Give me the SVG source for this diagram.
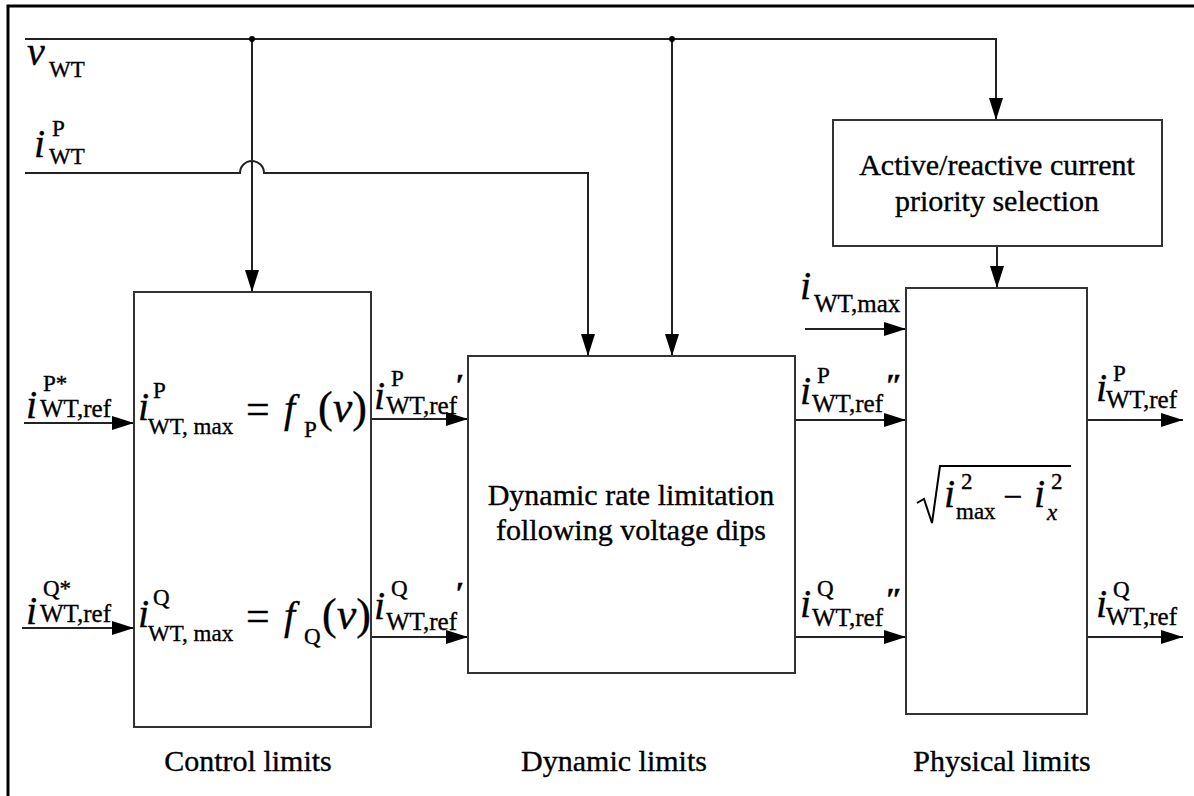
<svg xmlns="http://www.w3.org/2000/svg" width="1194" height="796" viewBox="0 0 1194 796" font-family="Liberation Serif, Times New Roman, serif">
<defs>
<marker id="ah" markerUnits="userSpaceOnUse" markerWidth="24" markerHeight="16" refX="22" refY="7" orient="auto">
<path d="M0,0 L22,7 L0,14 Z" fill="#000"/>
</marker>
<style>
text{font-family:"Liberation Serif","Times New Roman",serif;fill:#000;stroke:#000;stroke-width:0.35px}
.m{font-style:italic;font-size:40px}
.s{font-size:23px}
.s2{font-size:25px}
.box{fill:#fff;stroke:#333;stroke-width:2}
.arr{fill:none;stroke:#222;stroke-width:2;marker-end:url(#ah)}
.lbl{font-size:30px;text-anchor:middle}
.pr{font-style:italic;font-weight:bold;font-size:32px}
</style>
</defs>
<rect width="1194" height="796" fill="#fff"/>
<path d="M8,796 V6 H1194" fill="none" stroke="#000" stroke-width="3"/>

<g id="connectors">
<path class="arr" d="M25,39 H996 V120"/>
<path class="arr" d="M252,39 V292"/>
<path class="arr" d="M672,39 V356"/>
<circle cx="252" cy="39" r="3" fill="#000"/>
<circle cx="672" cy="39" r="3" fill="#000"/>
<path class="arr" d="M25,173 H240 A12,12 0 0 1 264,173 H588 V356"/>
<path class="arr" d="M997,246 V288"/>
<path class="arr" d="M805,329 H906"/>
<path class="arr" d="M24,423 H134"/>
<path class="arr" d="M22,628 H134"/>
<path class="arr" d="M371,419 H468"/>
<path class="arr" d="M371,637 H468"/>
<path class="arr" d="M795,420 H906"/>
<path class="arr" d="M795,637 H906"/>
<path class="arr" d="M1087,420 H1183"/>
<path class="arr" d="M1087,637 H1183"/>
</g>

<g id="sig-v">
<text class="m" x="27" y="65" font-size="42">v</text>
<text class="s" x="49" y="77">WT</text>
</g>
<g id="sig-ip">
<text class="m" x="34" y="157">i</text>
<text class="s" x="52" y="136">P</text>
<text class="s" x="49" y="164">WT</text>
</g>

<g id="in-p">
<text class="m" x="26" y="418">i</text>
<text class="s" x="43" y="391">P*</text>
<text class="s2" x="40" y="417">WT,ref</text>
</g>
<g id="in-q">
<text class="m" x="26" y="624">i</text>
<text class="s" x="43" y="596">Q*</text>
<text class="s2" x="40" y="622">WT,ref</text>
</g>

<g id="control">
<rect class="box" x="134" y="292" width="237" height="435"/>
<text class="m" x="138" y="420">i</text>
<text class="s" x="153" y="398">P</text>
<text class="s" x="148" y="434">WT, max</text>
<text x="246" y="423" font-size="42">=</text>
<text class="m" x="284" y="422" font-size="42">f</text>
<text class="s" x="304" y="437">P</text>
<text x="318" y="422" font-size="44">(<tspan font-style="italic">v</tspan>)</text>
<text class="m" x="138" y="627">i</text>
<text class="s" x="153" y="605">Q</text>
<text class="s" x="148" y="641">WT, max</text>
<text x="246" y="630" font-size="42">=</text>
<text class="m" x="284" y="629" font-size="42">f</text>
<text class="s" x="304" y="644">Q</text>
<text x="322" y="629" font-size="44">(<tspan font-style="italic">v</tspan>)</text>
</g>

<g id="ctrl-out">
<text class="m" x="374" y="409">i</text>
<text class="s" x="391" y="386">P</text>
<text class="s2" x="386" y="414">WT,ref</text>
<text class="pr" x="455" y="396">′</text>
<text class="m" x="374" y="619">i</text>
<text class="s" x="391" y="596">Q</text>
<text class="s2" x="386" y="630">WT,ref</text>
<text class="pr" x="455" y="604">′</text>
</g>

<g id="dynamic">
<rect class="box" x="468" y="356" width="327" height="317"/>
<text class="lbl" x="631" y="505">Dynamic rate limitation</text>
<text class="lbl" x="631" y="540">following voltage dips</text>
</g>

<g id="dyn-out">
<text class="m" x="800" y="404">i</text>
<text class="s" x="817" y="383">P</text>
<text class="s2" x="812" y="412">WT,ref</text>
<text class="pr" x="885" y="396">″</text>
<text class="m" x="800" y="617">i</text>
<text class="s" x="817" y="596">Q</text>
<text class="s2" x="812" y="626">WT,ref</text>
<text class="pr" x="885" y="610">″</text>
</g>

<g id="imax">
<text class="m" x="800" y="299">i</text>
<text class="s2" x="814" y="312">WT,max</text>
</g>

<g id="priority">
<rect class="box" x="833" y="120" width="329" height="126"/>
<text class="lbl" x="997" y="175">Active/reactive current</text>
<text class="lbl" x="997" y="211">priority selection</text>
</g>

<g id="physical">
<rect class="box" x="906" y="288" width="181" height="426"/>
<path d="M917,503 L924,499 L932,523 L940,466 H1071" fill="none" stroke="#000" stroke-width="2"/>
<text class="m" x="944" y="507">i</text>
<text class="s" x="961" y="489">2</text>
<text class="s" x="956" y="519">max</text>
<text x="1003" y="508" font-size="34">−</text>
<text class="m" x="1034" y="507">i</text>
<text class="s" x="1051" y="489">2</text>
<text class="s" x="1047" y="520" font-style="italic">x</text>
</g>

<g id="phys-out">
<text class="m" x="1096" y="401">i</text>
<text class="s" x="1113" y="381">P</text>
<text class="s2" x="1106" y="408">WT,ref</text>
<text class="m" x="1096" y="617">i</text>
<text class="s" x="1113" y="597">Q</text>
<text class="s2" x="1106" y="625">WT,ref</text>
</g>

<g id="captions">
<text class="lbl" x="248" y="771">Control limits</text>
<text class="lbl" x="614" y="771">Dynamic limits</text>
<text class="lbl" x="1002" y="771">Physical limits</text>
</g>
</svg>
